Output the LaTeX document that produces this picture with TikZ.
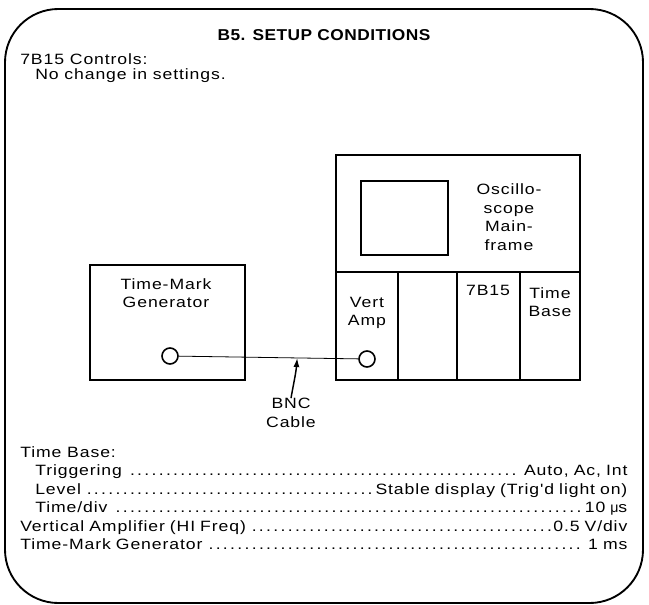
\documentclass[tikz,border=0pt]{standalone}
\usepackage{fontspec}
\setmainfont{Liberation Sans}
\newfontfamily\platefont{Liberation Sans}[FakeStretch=1.18,LetterSpace=6]
\newfontfamily\headfont{Liberation Sans}[FakeStretch=1.1,LetterSpace=3]
\usetikzlibrary{arrows.meta,calc,positioning}
\newcommand\leaddots{\leaders\hbox to 5.4pt{\hss.\hss}\hfill}
\tikzset{
  frame/.style={black, line width=1.4pt, rounded corners=40},
  unit/.style={draw=black, line width=1.8pt, inner sep=0pt, outer sep=0pt},
  panel/.style={draw=black, line width=1.2pt, inner sep=0pt, outer sep=0pt,
                minimum width=#1*0.75pt, minimum height=108*0.75pt},
  lab/.style={font=\platefont\fontsize{11.2}{14}\selectfont, align=center, inner sep=0pt},
  txt/.style={font=\platefont\fontsize{11.2}{13}\selectfont, anchor=base west, inner sep=0pt},
  leader/.style={txt, text width=#1*0.75pt, align=left},
  jack/.style={draw=black, line width=1.2pt, circle, minimum size=12pt, inner sep=0pt, fill=white},
  cable/.style={black, line width=0.6pt},
  flow/.style={-{Latex[length=2.4mm,width=1.6mm]}, line width=1.1pt},
}

\begin{document}
\begin{tikzpicture}[x=0.75pt,y=-0.75pt]
  \path[use as bounding box] (0,0) rectangle (649,604);
  \draw[frame] (5,9) rectangle (643,603);

  \node[font=\headfont\fontsize{11.8}{13}\selectfont\bfseries, inner sep=0pt] (title) at (324,35)
    {B5. SETUP CONDITIONS};
  \node[txt] (ctl) at (20,64) {7B15 Controls:};
  \node[txt] (nochg) at (35,79) {No change in settings.};

  % time-mark generator
  \node[unit, minimum width=155*0.75pt, minimum height=115*0.75pt] (gen) at (167.5,322.5) {};
  \node[lab] (genlab) at (166,293) {Time-Mark\\Generator};
  \node[jack] (gencon) at (170,356) {};

  % oscilloscope mainframe
  \node[unit, minimum width=244*0.75pt, minimum height=117*0.75pt] (scope) at (458,213.5) {};
  \node[draw=black, line width=1.2pt, minimum width=87*0.75pt, minimum height=74*0.75pt,
        inner sep=0pt] (screen) at (404.5,218) {};
  \node[lab] (scopelab) at (509,217) {Oscillo-\\scope\\Main-\\frame};
  \node[panel=62, anchor=north west] (vamp) at (336,272) {};
  \node[panel=59, anchor=north west] (blank) at (vamp.north east) {};
  \node[panel=63, anchor=north west] (sweep) at (blank.north east) {};
  \node[panel=60, anchor=north west] (tbase) at (sweep.north east) {};
  \draw[unit] (scope.south west) ++(0,108) rectangle (scope.south east);
  \node[lab] (vamplab) at (367,313) {Vert\\Amp};
  \node[lab] (sweeplab) at (488,290) {7B15};
  \node[lab] (tbaselab) at (550,302) {Time\\Base};
  \node[jack] (ampcon) at (367,359) {};

  % cable
  \draw[cable] (gencon) -- coordinate[pos=0.66] (hit) (ampcon);
  \node[lab] (bnc) at (291,413) {BNC\\Cable};
  \draw[flow] (bnc.north) to[out=80,in=-95] (hit);

  % settings
  \node[txt] (tb) at (20,457) {Time Base:};
  \node[leader=592] (trig) at (35,475) {Triggering\leaddots Auto, Ac, Int};
  \node[leader=592] (lvl) at (35,494) {Level\leaddots Stable display (Trig'd light on)};
  \node[leader=592] (tdiv) at (35,512) {Time/div\leaddots 10 {\fontspec{Liberation Sans}[Scale=0.95]μ}s};
  \node[leader=607] (vert) at (20,531) {Vertical Amplifier (HI Freq)\leaddots 0.5 V/div};
  \node[leader=607] (tmg) at (20,549) {Time-Mark Generator\leaddots 1 ms};
\end{tikzpicture}
\end{document}
